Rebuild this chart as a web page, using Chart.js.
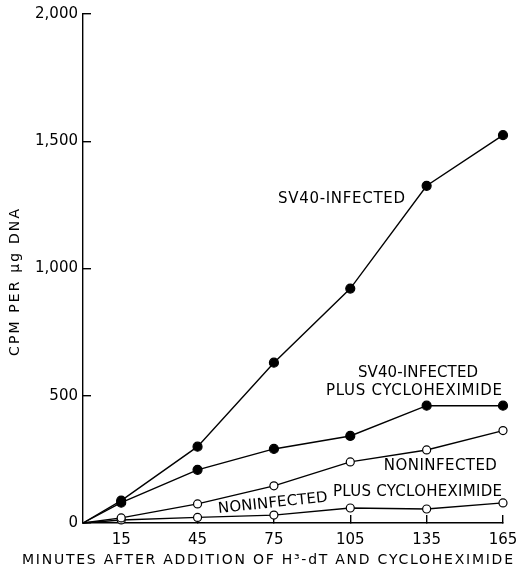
<html>
  <head>
    <title>CPM per ug DNA</title>
    <script src="https://cdn.jsdelivr.net/npm/chart.js@4.4.1/dist/chart.umd.min.js"></script>
    <style>
      body {
        margin: 0;
        background-color: white;
      }
    </style>
  </head>

  <body>
    <canvas id="chart" width="517" height="570"></canvas>
  </body>

  <script>
    // minutes after addition (0 = origin, no marker there)
    var minutes = [0, 15, 45, 75, 105, 135, 165];
    var sv40Infected = [0, 88, 300, 630, 921, 1325, 1524];
    var sv40Cyclo = [0, 80, 209, 291, 342, 461, 461];
    var noninfected = [0, 20, 75, 146, 240, 287, 363];
    var noninfCyclo = [0, 12, 22, 31, 59, 55, 79];

    var xTicks = [15, 45, 75, 105, 135, 165];
    var yTickLabels = ["0", "500", "1,000", "1,500", "2,000"];

    var FONT = '"DejaVu Sans"';

    function pts(ys) {
      var out = [];
      for (i = 0; i < minutes.length; i++) {
        out.push({x: minutes[i], y: ys[i]});
      }
      return out;
    }

    function series(ys, filled) {
      return {
        data: pts(ys),
        borderColor: 'black',
        borderWidth: 1.4,
        tension: 0,
        clip: false,
        pointRadius: minutes.map(function (m) { return m === 0 ? 0 : (filled ? 4.5 : 4); }),
        pointBackgroundColor: filled ? 'black' : 'white',
        pointBorderColor: 'black',
        pointBorderWidth: 1.2
      };
    }

    // text labels: [text, left x, right x, centre y, angle] in data units
    var curveLabels = [
      ["SV40-INFECTED", 76.6, 126.5, 1273, 0],
      ["SV40-INFECTED", 108.0, 155.2, 589, 0],
      ["PLUS CYCLOHEXIMIDE", 95.5, 164.6, 519, 0],
      ["NONINFECTED", 118.2, 162.6, 224, 0],
      ["NONINFECTED", 53.0, 96.2, 77, -6],
      ["PLUS CYCLOHEXIMIDE", 98.2, 164.6, 122, 0]
    ];

    function spacedText(ctx, text, x0, x1, cy, size, angle) {
      ctx.save();
      ctx.font = size + 'px ' + FONT;
      ctx.letterSpacing = '0px';
      var w = ctx.measureText(text).width;
      var ls = (x1 - x0 - w) / (text.length - 1);
      ctx.letterSpacing = ls + 'px';
      ctx.fillStyle = 'black';
      ctx.textAlign = 'left';
      ctx.textBaseline = 'middle';
      ctx.translate((x0 + x1) / 2, cy);
      ctx.rotate(angle * Math.PI / 180);
      ctx.fillText(text, -(x1 - x0) / 2, 0);
      ctx.restore();
    }

    var labelPlugin = {
      id: 'labels',
      afterDraw: function (chart) {
        var ctx = chart.ctx;
        var xs = chart.scales.x;
        var ys = chart.scales.y;
        for (i = 0; i < curveLabels.length; i++) {
          var l = curveLabels[i];
          spacedText(ctx, l[0], xs.getPixelForValue(l[1]), xs.getPixelForValue(l[2]),
                     ys.getPixelForValue(l[3]), 15, l[4]);
        }
        // axis titles
        spacedText(ctx, "MINUTES AFTER ADDITION OF H\u00B3-dT AND CYCLOHEXIMIDE", 22, 513, 560, 14, 0);
        ctx.save();
        ctx.translate(15, 283);
        ctx.rotate(-Math.PI / 2);
        spacedText(ctx, "CPM PER \u00B5g DNA", -73, 74, 0, 14, 0);
        ctx.restore();
      }
    };

    new Chart(document.getElementById("chart"), {
      type: 'line',
      data: {
        datasets: [
          series(sv40Infected, true),
          series(sv40Cyclo, true),
          series(noninfected, false),
          series(noninfCyclo, false)
        ]
      },
      options: {
        responsive: false,
        animation: false,
        devicePixelRatio: 1,
        layout: { padding: { left: 0, top: 14, right: 14, bottom: 0 } },
        plugins: {
          legend: { display: false },
          tooltip: { enabled: false }
        },
        scales: {
          x: {
            type: 'linear',
            min: 0,
            max: 165,
            afterBuildTicks: function (scale) {
              scale.ticks = xTicks.map(function (v) { return {value: v}; });
            },
            afterFit: function (scale) {
              scale.height = 47;
              scale.paddingLeft = 0;
              scale.paddingRight = 0;
            },
            ticks: {
              color: 'black',
              padding: 16,
              maxRotation: 0,
              autoSkip: false,
              font: { family: FONT, size: 15 },
              callback: function (v) { return String(v); }
            },
            grid: { drawOnChartArea: false, tickLength: -8, color: 'black', lineWidth: 1.4 },
            border: { color: 'black', width: 1.4 }
          },
          y: {
            min: 0,
            max: 2000,
            afterFit: function (scale) {
              scale.width = 83;
              scale.paddingTop = 0;
              scale.paddingBottom = 0;
            },
            ticks: {
              stepSize: 500,
              color: 'black',
              padding: 13,
              font: { family: FONT, size: 15 },
              callback: function (v, idx) { return yTickLabels[idx]; }
            },
            grid: { drawOnChartArea: false, tickLength: -8, color: 'black', lineWidth: 1.4 },
            border: { color: 'black', width: 1.4 }
          }
        }
      },
      plugins: [labelPlugin]
    });
  </script>
</html>
